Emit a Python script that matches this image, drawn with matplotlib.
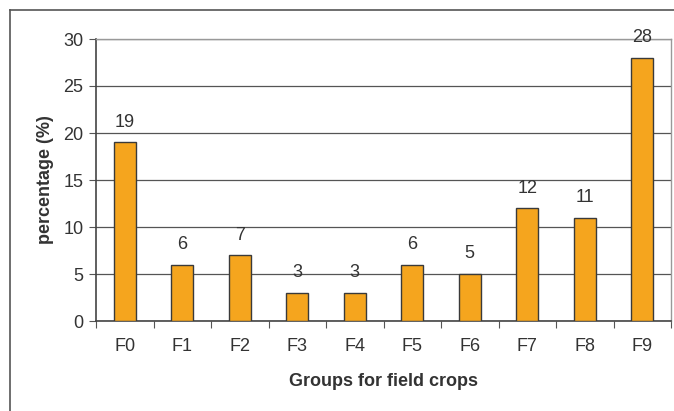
import matplotlib.pyplot as plt
from matplotlib.lines import Line2D
import numpy as np

plt.rcParams['font.family'] = ['Liberation Sans', 'DejaVu Sans']

groups = ['F0', 'F1', 'F2', 'F3', 'F4', 'F5', 'F6', 'F7', 'F8', 'F9']
percent = [19, 6, 7, 3, 3, 6, 5, 12, 11, 28]

W, H = 674, 411
fig = plt.figure(figsize=(W / 100, H / 100), dpi=100)

# outer box (only top and left edges fall inside the image)
fig.add_artist(Line2D([10 / W, 10 / W], [0, 1 - 10 / H], color='#555555', lw=1.2))
fig.add_artist(Line2D([10 / W, 1], [1 - 10 / H, 1 - 10 / H], color='#555555', lw=1.2))

ax = fig.add_axes([96 / W, 1 - 321 / H, 575 / W, 282 / H])

x = np.arange(len(groups))
ax.bar(x, percent, width=0.39, color='#F5A51E', edgecolor='#3a3a3a', linewidth=1.0, zorder=3)

for xi, v in zip(x, percent):
    ax.annotate(str(v), (xi, v), xytext=(0, 14.5), textcoords='offset points',
                ha='center', va='center', fontsize=13, color='#333333')

ax.set_xlim(-0.5, len(groups) - 0.5)
ax.set_ylim(0, 30)
ax.set_yticks(range(0, 31, 5))
ax.yaxis.grid(True, color='#555555', lw=0.9, zorder=0)
ax.set_axisbelow(True)

ax.set_xticks(np.arange(-0.5, len(groups), 1.0))
ax.set_xticklabels([])
ax.set_xticks(x, minor=True)
ax.set_xticklabels(groups, minor=True)
ax.tick_params(axis='x', which='major', length=5, color='#555555', direction='out')
ax.tick_params(axis='x', which='minor', length=0, pad=12, labelsize=13, labelcolor='#333333')
ax.tick_params(axis='y', length=5, color='#555555', labelsize=13, labelcolor='#333333', pad=4)

for s in ['left', 'bottom']:
    ax.spines[s].set_color('#444444')
    ax.spines[s].set_linewidth(1.2)
for s in ['top', 'right']:
    ax.spines[s].set_color('#999999')
    ax.spines[s].set_linewidth(1.0)

ax.set_ylabel('percentage (%)', fontsize=13, fontweight='bold', color='#333333', labelpad=7)
ax.set_xlabel('Groups for field crops', fontsize=13, fontweight='bold', color='#333333', labelpad=13)

fig.savefig('out.png', dpi=100)
